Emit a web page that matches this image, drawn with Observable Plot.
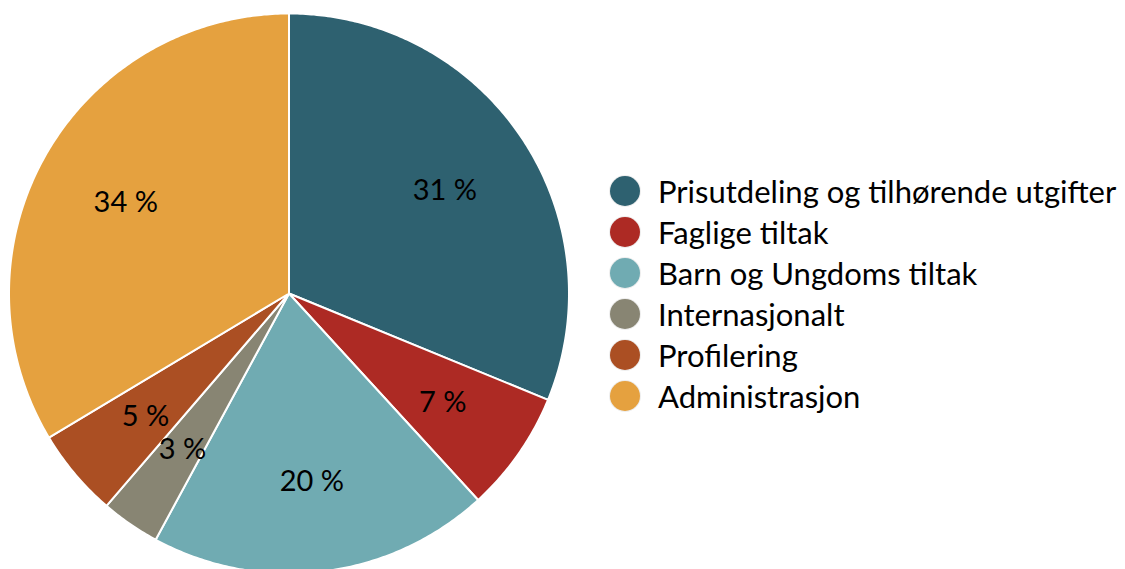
<!DOCTYPE html>
<html>
<head>
<meta charset="utf-8">
<script src="https://cdn.jsdelivr.net/npm/d3@7"></script>
<script src="https://cdn.jsdelivr.net/npm/@observablehq/plot@0.6"></script>
<style>
  html, body { margin: 0; padding: 0; background: #fff; }
  #wrap { position: relative; width: 1125px; height: 569px; overflow: hidden; }
  #legend { position: absolute; left: 610px; top: 170px; font-family: Lato, sans-serif; font-size: 31px; color: #000; white-space: nowrap; }
  .item { display: flex; align-items: center; height: 41px; }
  .sw { width: 30px; height: 30px; border-radius: 50%; margin-right: 18px; box-shadow: 0 0 0 1px #eee; flex: none; }
</style>
</head>
<body>
<div id="wrap"><div id="chart"></div><div id="legend"></div></div>
<script>
const categories = ["Prisutdeling og tilhørende utgifter", "Faglige tiltak", "Barn og Ungdoms tiltak", "Internasjonalt", "Profilering", "Administrasjon"];
const shares = [31.2, 7.0, 19.7, 3.4, 5.1, 33.6];
const colors = ["#2e6170", "#ad2a24", "#70abb2", "#888573", "#ab4f23", "#e5a13f"];

const total = d3.sum(shares);
let acc = 0;
const slices = categories.map((c, i) => {
  const a0 = acc / total * 2 * Math.PI;
  acc += shares[i];
  const a1 = acc / total * 2 * Math.PI;
  return {c, v: shares[i], a0, a1};
});

// polygon outline of each slice in unit coordinates (angle clockwise from top)
const poly = [];
for (const s of slices) {
  poly.push({c: s.c, x: 0, y: 0});
  const n = Math.max(2, Math.ceil((s.a1 - s.a0) / 0.01));
  for (let k = 0; k <= n; k++) {
    const a = s.a0 + (s.a1 - s.a0) * k / n;
    poly.push({c: s.c, x: Math.sin(a), y: Math.cos(a)});
  }
}
const labels = slices.map(s => {
  const m = (s.a0 + s.a1) / 2, r = 0.67;
  return {c: s.c, x: r * Math.sin(m), y: r * Math.cos(m), t: Math.round(s.v) + " %"};
});

const cx = 288.5, cy = 293, R = 280;
const chart = Plot.plot({
  width: 1125,
  height: 569,
  margin: 0,
  style: {fontFamily: "Lato, sans-serif", background: "#fff"},
  x: {domain: [-1, 1], range: [cx - R, cx + R], axis: null},
  y: {domain: [-1, 1], range: [cy + R, cy - R], axis: null},
  color: {domain: categories, range: colors},
  marks: [
    Plot.line(poly, {x: "x", y: "y", z: "c", fill: "c", stroke: "#fff", strokeWidth: 2, curve: "linear-closed"}),
    Plot.text(labels, {x: "x", y: "y", text: "t", fontSize: 29, fill: "#000", dy: 2})
  ]
});
document.getElementById("chart").appendChild(chart);

const legend = document.getElementById("legend");
categories.forEach((c, i) => {
  const it = document.createElement("div");
  it.className = "item";
  const sw = document.createElement("span");
  sw.className = "sw";
  sw.style.background = colors[i];
  const tx = document.createElement("span");
  tx.textContent = c;
  it.appendChild(sw); it.appendChild(tx);
  legend.appendChild(it);
});
</script>
</body>
</html>
